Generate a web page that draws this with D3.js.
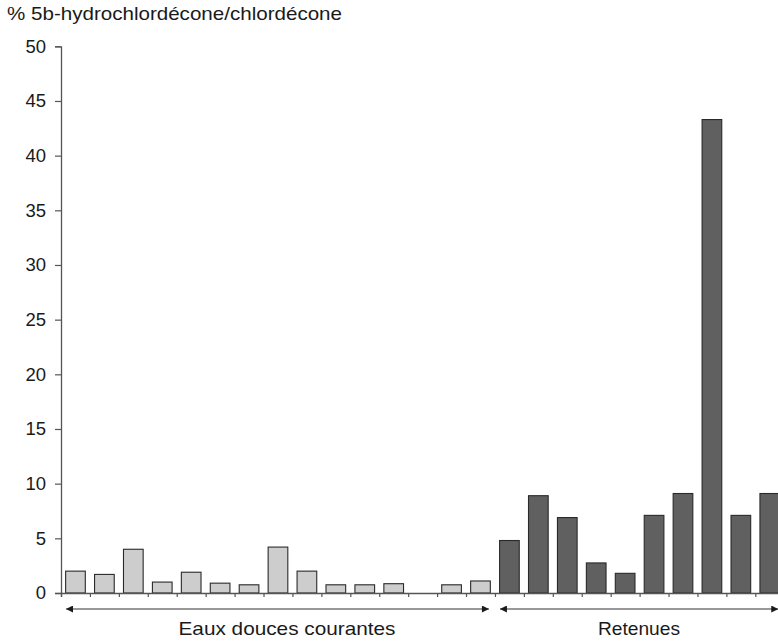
<!DOCTYPE html>
<html>
<head>
<meta charset="utf-8">
<script src="https://cdn.jsdelivr.net/npm/d3@7"></script>
<style>
  html, body { margin: 0; padding: 0; background: #fff; }
  svg { display: block; font-family: "Liberation Sans", Arial, Helvetica, sans-serif; }
</style>
</head>
<body>
<svg id="chart" width="778" height="641"></svg>
<script>
// ---- Data ----
const yTitle = "% 5b-hydrochlordécone/chlordécone";
const categories = d3.range(1, 26).map(String);
const groups = ["Eaux douces courantes", "Eaux douces courantes", "Eaux douces courantes",
  "Eaux douces courantes", "Eaux douces courantes", "Eaux douces courantes",
  "Eaux douces courantes", "Eaux douces courantes", "Eaux douces courantes",
  "Eaux douces courantes", "Eaux douces courantes", "Eaux douces courantes",
  "Eaux douces courantes", "Eaux douces courantes", "Eaux douces courantes",
  "Retenues", "Retenues", "Retenues", "Retenues", "Retenues",
  "Retenues", "Retenues", "Retenues", "Retenues", "Retenues"];
const values = [2.0, 1.7, 4.0, 1.0, 1.9, 0.9, 0.75, 4.2, 2.0, 0.75, 0.75, 0.85, null, 0.75, 1.1,
  4.8, 8.9, 6.9, 2.75, 1.8, 7.1, 9.1, 43.3, 7.1, 9.1];
const groupNames = ["Eaux douces courantes", "Retenues"];
const groupSlots = [[0, 15], [15, 25]];
const yTicks = [0, 5, 10, 15, 20, 25, 30, 35, 40, 45, 50];
const groupColors = { "Eaux douces courantes": "#cdcdcd", "Retenues": "#606060" };

// ---- Layout ----
const svg = d3.select("#chart");
const x0 = 61, step = 28.93;
const x1 = x0 + step * categories.length;
const yBase = 593, yTop = 46.3;

const x = d3.scaleBand().domain(categories).range([x0, x1])
  .paddingInner(0.32).paddingOuter(0.16);
const slot = d3.scaleLinear().domain([0, categories.length]).range([x0, x1]);
const y = d3.scaleLinear().domain([0, 50]).range([yBase, yTop]);

// title
svg.append("text").attr("x", 7).attr("y", 20)
  .attr("font-size", 18.5).attr("fill", "#1a1a1a")
  .attr("textLength", 335).attr("lengthAdjust", "spacingAndGlyphs")
  .text(yTitle);

// bars
svg.append("g").selectAll("rect")
  .data(categories.map((c, i) => ({ c, v: values[i], g: groups[i] })).filter(d => d.v != null))
  .join("rect")
  .attr("x", d => x(d.c))
  .attr("y", d => y(d.v))
  .attr("width", x.bandwidth())
  .attr("height", d => yBase - y(d.v))
  .attr("fill", d => groupColors[d.g])
  .attr("stroke", "#2a2a2a")
  .attr("stroke-width", 1.1);

// y axis
const yAxis = svg.append("g").attr("transform", `translate(${x0},0)`)
  .call(d3.axisLeft(y).tickValues(yTicks).tickSize(6).tickPadding(9).tickFormat(d3.format("d")));
yAxis.select(".domain").attr("stroke", "#555").attr("stroke-width", 1.3);
yAxis.selectAll(".tick line").attr("stroke", "#555").attr("stroke-width", 1.2);
yAxis.selectAll(".tick text").attr("font-size", 18.5).attr("fill", "#1a1a1a")
  .attr("font-family", "Liberation Sans, Arial, sans-serif");

// x axis (slot boundaries)
const xAxis = svg.append("g").attr("transform", `translate(0,${yBase})`)
  .call(d3.axisBottom(slot).tickValues(d3.range(0, categories.length + 1)).tickSize(4).tickFormat(""));
xAxis.select(".domain").attr("stroke", "#555").attr("stroke-width", 1.3);
xAxis.selectAll(".tick line").attr("stroke", "#555").attr("stroke-width", 1.2);

// arrow markers
const defs = svg.append("defs");
["start", "end"].forEach(k => {
  defs.append("marker").attr("id", "arrow-" + k)
    .attr("viewBox", "0 0 10 10").attr("refX", k === "end" ? 10 : 0).attr("refY", 5)
    .attr("markerWidth", 10).attr("markerHeight", 7).attr("markerUnits", "userSpaceOnUse")
    .attr("orient", "auto")
    .append("path")
    .attr("d", k === "end" ? "M0,0 L10,5 L0,10 Z" : "M10,0 L0,5 L10,10 Z")
    .attr("fill", "#1a1a1a");
});

const arrowY = 609;
const labelX = [287, 639];
const labelLen = [217, 82];
groupNames.forEach((g, i) => {
  const [a, b] = groupSlots[i];
  svg.append("line")
    .attr("x1", slot(a) + 5).attr("x2", slot(b) - 6)
    .attr("y1", arrowY).attr("y2", arrowY)
    .attr("stroke", "#333").attr("stroke-width", 1.2)
    .attr("marker-start", "url(#arrow-start)")
    .attr("marker-end", "url(#arrow-end)");
  svg.append("text").attr("x", labelX[i] - labelLen[i] / 2).attr("y", 635)
    .attr("font-size", 18.5).attr("fill", "#1a1a1a")
    .attr("textLength", labelLen[i]).attr("lengthAdjust", "spacingAndGlyphs")
    .text(g);
});
</script>
</body>
</html>
